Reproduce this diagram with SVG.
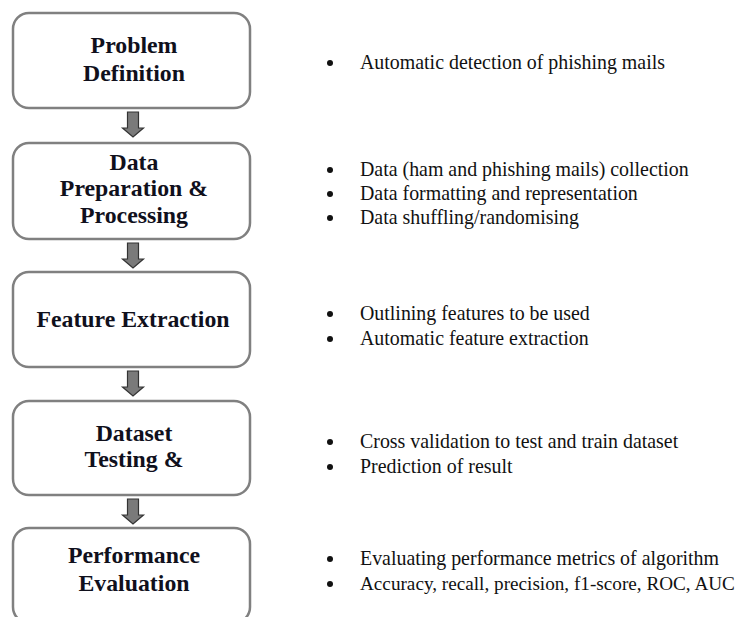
<svg xmlns="http://www.w3.org/2000/svg" width="747" height="617" viewBox="0 0 747 617">
<style>
.box{fill:#fff;stroke:#808080;stroke-width:2.5}
.t{font-family:'Liberation Serif','Times New Roman','DejaVu Serif',serif;font-weight:bold;font-size:23.8px;fill:#10101c;text-anchor:middle}
.b{font-family:'Liberation Serif','Times New Roman','DejaVu Serif',serif;font-size:19.9px;fill:#111}
.dot{fill:#111}
.arr{fill:#7a7a7a;stroke:#333;stroke-width:1.2}
</style>
<defs>
<path id="ar" d="M-5.5,0 L5.5,0 L5.5,16 L10.5,16 L0,25 L-10.5,16 L-5.5,16 Z"/>
</defs>
<g id="connectors">
<use href="#ar" class="arr" x="133" y="112"/>
<use href="#ar" class="arr" x="133" y="243"/>
<use href="#ar" class="arr" x="133" y="371"/>
<use href="#ar" class="arr" x="133" y="499"/>
</g>
<g id="n1">
<rect class="box" x="13" y="13" width="237" height="95" rx="16"/>
<text class="t" x="134" y="53">Problem</text>
<text class="t" x="134" y="81">Definition</text>
</g>
<g id="n2">
<rect class="box" x="13" y="143" width="237" height="96" rx="16"/>
<text class="t" x="134" y="170">Data</text>
<text class="t" x="134" y="196">Preparation &amp;</text>
<text class="t" x="134" y="223">Processing</text>
</g>
<g id="n3">
<rect class="box" x="13" y="272" width="237" height="95" rx="16"/>
<text class="t" x="133" y="327">Feature Extraction</text>
</g>
<g id="n4">
<rect class="box" x="13" y="401" width="237" height="94" rx="16"/>
<text class="t" x="134" y="441">Dataset</text>
<text class="t" x="134" y="467">Testing &amp;</text>
</g>
<g id="n5">
<rect class="box" x="13" y="528" width="237" height="95" rx="16"/>
<text class="t" x="134" y="563">Performance</text>
<text class="t" x="134" y="591">Evaluation</text>
</g>
<g id="notes">
<circle class="dot" cx="330" cy="63" r="3"/>
<text class="b" x="360" y="69">Automatic detection of phishing mails</text>
<circle class="dot" cx="330" cy="170" r="3"/>
<text class="b" x="360" y="176">Data (ham and phishing mails) collection</text>
<circle class="dot" cx="330" cy="194" r="3"/>
<text class="b" x="360" y="200">Data formatting and representation</text>
<circle class="dot" cx="330" cy="218" r="3"/>
<text class="b" x="360" y="224">Data shuffling/randomising</text>
<circle class="dot" cx="330" cy="314" r="3"/>
<text class="b" x="360" y="320">Outlining features to be used</text>
<circle class="dot" cx="330" cy="339" r="3"/>
<text class="b" x="360" y="345">Automatic feature extraction</text>
<circle class="dot" cx="330" cy="442" r="3"/>
<text class="b" x="360" y="448">Cross validation to test and train dataset</text>
<circle class="dot" cx="330" cy="467" r="3"/>
<text class="b" x="360" y="473">Prediction of result</text>
<circle class="dot" cx="330" cy="559" r="3"/>
<text class="b" x="360" y="565">Evaluating performance metrics of algorithm</text>
<circle class="dot" cx="330" cy="584" r="3"/>
<text class="b" x="360" y="590" style="font-size:19.2px">Accuracy, recall, precision, f1-score, ROC, AUC</text>
</g>
</svg>
